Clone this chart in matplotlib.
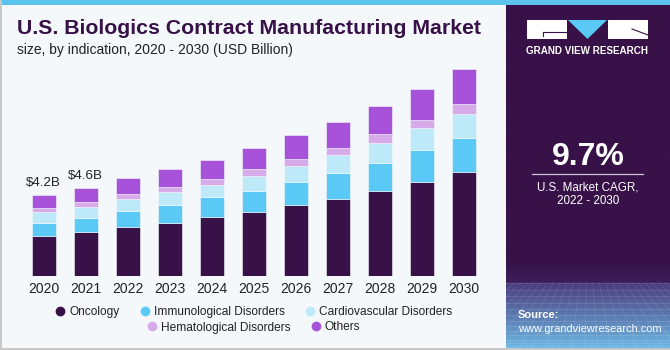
import matplotlib
matplotlib.use("Agg")
import matplotlib.pyplot as plt
import numpy as np
from matplotlib.patches import Rectangle, Polygon
from matplotlib.lines import Line2D

years = ["2020", "2021", "2022", "2023", "2024", "2025", "2026", "2027", "2028", "2029", "2030"]
oncology = [2.06, 2.28, 2.52, 2.75, 3.04, 3.32, 3.66, 4.01, 4.41, 4.87, 5.39]
immunological = [0.67, 0.73, 0.86, 0.93, 1.04, 1.09, 1.21, 1.33, 1.45, 1.66, 1.78]
cardiovascular = [0.59, 0.59, 0.62, 0.67, 0.65, 0.79, 0.83, 0.95, 1.05, 1.14, 1.24]
hematological = [0.19, 0.24, 0.23, 0.26, 0.31, 0.35, 0.38, 0.36, 0.45, 0.43, 0.50]
others = [0.69, 0.73, 0.83, 0.93, 0.98, 1.07, 1.23, 1.33, 1.45, 1.59, 1.80]
series_names = ["Oncology", "Immunological Disorders", "Cardiovascular Disorders",
                "Hematological Disorders", "Others"]
colors = ["#371147", "#5bc9f6", "#bde9f9", "#d7aaea", "#a653d9"]
value_labels = {0: "$4.2B", 1: "$4.6B"}

W, H = 670, 350
fig = plt.figure(figsize=(W / 100, H / 100), dpi=100)
fig.patch.set_facecolor("#f4f8fb")
FONT = "Liberation Sans"

def px(x, y):
    return x / W, 1 - y / H

# top stripe
fig.patches.append(Rectangle((0, 1 - 5 / H), 1, 5 / H, transform=fig.transFigure,
                             facecolor="#5bc3ec", edgecolor="none", zorder=5))
# border
fig.patches.append(Rectangle((0, 0), 2 / W, 1, transform=fig.transFigure,
                             facecolor="#c8c8c8", edgecolor="none", zorder=5))
fig.patches.append(Rectangle((0, 0), 1, 2 / H, transform=fig.transFigure,
                             facecolor="#c8c8c8", edgecolor="none", zorder=5))

# right panel with gradient
pax = fig.add_axes([506 / W, 2 / H, (W - 506) / W, (H - 7) / H])
pax.set_axis_off()
n = 300
grad = np.zeros((n, 1, 3))
top = np.array([0x37, 0x11, 0x47]) / 255
mid0 = np.array([0x3d, 0x1f, 0x5a]) / 255
mid = np.array([0x4a, 0x3a, 0x7c]) / 255
bot = np.array([0x6c, 0xb6, 0xe2]) / 255
for i in range(n):
    t = i / (n - 1)
    if t < 0.745:
        grad[i, 0] = top
    elif t < 0.81:
        s = (t - 0.745) / 0.065
        grad[i, 0] = top * (1 - s) + mid0 * s
    else:
        s = (t - 0.81) / 0.19
        grad[i, 0] = mid * (1 - s) + bot * s
pax.imshow(grad, aspect="auto", extent=[0, 1, 0, 1], origin="upper")
pax.set_xlim(0, 1)
pax.set_ylim(0, 1)
# faint grid in bottom of panel
for k in range(14):
    yy = 0.19 * (k / 13) ** 1.4
    pax.plot([0, 1], [yy, yy], color="white", alpha=0.13, lw=0.6)
for k in range(-10, 20):
    pax.plot([k * 0.08, 0.5 + (k * 0.08 - 0.5) * 0.5], [0, 0.19], color="white", alpha=0.11, lw=0.6)

# logo
fig.patches.append(Rectangle(px(527, 39), 40 / W, 19 / H, transform=fig.transFigure,
                             facecolor="white", edgecolor="none", zorder=6))
fig.patches.append(Rectangle(px(608, 39), 40 / W, 19 / H, transform=fig.transFigure,
                             facecolor="white", edgecolor="none", zorder=6))
fig.patches.append(Polygon([px(568, 20), px(607, 20), px(587.5, 39)], closed=True,
                           transform=fig.transFigure, facecolor="#5bc9f6", edgecolor="none", zorder=6))
fig.lines.append(Line2D([543 / W, 567 / W], [1 - 32 / H, 1 - 32 / H], transform=fig.transFigure,
                        color="#371147", lw=0.8, zorder=7))
fig.lines.append(Line2D([543 / W, 543 / W], [1 - 32 / H, 1 - 36 / H], transform=fig.transFigure,
                        color="#371147", lw=0.8, zorder=7))
fig.lines.append(Line2D([632 / W, 648 / W], [1 - 29 / H, 1 - 35 / H], transform=fig.transFigure,
                        color="#371147", lw=0.8, zorder=7))
fig.text(*px(587.5, 51), "GRAND VIEW RESEARCH", ha="center", va="center", color="white",
         fontsize=7.1, fontweight="bold", family=FONT, zorder=7)

fig.text(*px(588, 157), "9.7%", ha="center", va="center", color="white",
         fontsize=23, fontweight="bold", family=FONT, zorder=7)
fig.lines.append(Line2D([532 / W, 643 / W], [1 - 173.5 / H, 1 - 173.5 / H], transform=fig.transFigure,
                        color="#cfc4d8", lw=0.9, zorder=7))
fig.text(*px(588, 187), "U.S. Market CAGR,", ha="center", va="center", color="white",
         fontsize=8.4, family=FONT, zorder=7)
fig.text(*px(588, 201), "2022 - 2030", ha="center", va="center", color="white",
         fontsize=8.4, family=FONT, zorder=7)
fig.text(*px(518, 315), "Source:", ha="left", va="center", color="white",
         fontsize=8, fontweight="bold", family=FONT, zorder=7)
fig.text(*px(518, 329.5), "www.grandviewresearch.com", ha="left", va="center", color="white",
         fontsize=7.9, family=FONT, zorder=7)

# titles
fig.text(*px(17, 28), "U.S. Biologics Contract Manufacturing Market", ha="left", va="center",
         color="#371147", fontsize=15.3, fontweight="bold", family=FONT)
fig.text(*px(17, 50), "size, by indication, 2020 - 2030 (USD Billion)", ha="left", va="center",
         color="#222222", fontsize=10, family=FONT)

# chart
scale = 19.29  # px per billion
base_px = 276
top_px = 60
left_px, right_px = 20, 490
ax = fig.add_axes([left_px / W, 1 - base_px / H, (right_px - left_px) / W, (base_px - top_px) / H])
ax.set_facecolor("none")
x = np.arange(len(years))
spacing = 42.0
ax.set_xlim(-(43.8 - left_px) / spacing, (right_px - 43.8) / spacing)
ax.set_ylim(0, (base_px - top_px) / scale)

data = [oncology, immunological, cardiovascular, hematological, others]
bottom = np.zeros(len(years))
for vals, c, name in zip(data, colors, series_names):
    ax.bar(x, vals, width=0.58, bottom=bottom, color=c, edgecolor="#f4f8fb",
           linewidth=0.4, label=name)
    bottom = bottom + np.array(vals)

for i, lab in value_labels.items():
    ax.annotate(lab, (x[i], bottom[i]), xytext=(0, 4.5), textcoords="offset points",
                ha="center", va="bottom", fontsize=9.6, color="#222222", family=FONT)

ax.set_xticks(x)
ax.set_xticklabels(years, fontsize=10, color="#222222", family=FONT)
ax.tick_params(axis="x", length=0, pad=4)
ax.set_yticks([])
for s in ax.spines.values():
    s.set_visible(False)

# legends
def mk(c):
    return Line2D([], [], marker="o", linestyle="none", markersize=6, markerfacecolor=c,
                  markeredgecolor=c)

leg1 = fig.legend([mk(c) for c in colors[:3]], series_names[:3], loc="center",
                  bbox_to_anchor=px(253, 312), ncol=3, frameon=False,
                  prop={"family": FONT, "size": 8.6}, handletextpad=0.25, columnspacing=1.6,
                  handlelength=1.0, borderpad=0)
leg2 = fig.legend([mk(c) for c in colors[3:]], series_names[3:], loc="center",
                  bbox_to_anchor=px(253, 327.5), ncol=2, frameon=False,
                  prop={"family": FONT, "size": 8.6}, handletextpad=0.25, columnspacing=1.6,
                  handlelength=1.0, borderpad=0)
for leg in (leg1, leg2):
    for t in leg.get_texts():
        t.set_color("#222222")

fig.savefig("out.png", dpi=100, facecolor=fig.get_facecolor())
